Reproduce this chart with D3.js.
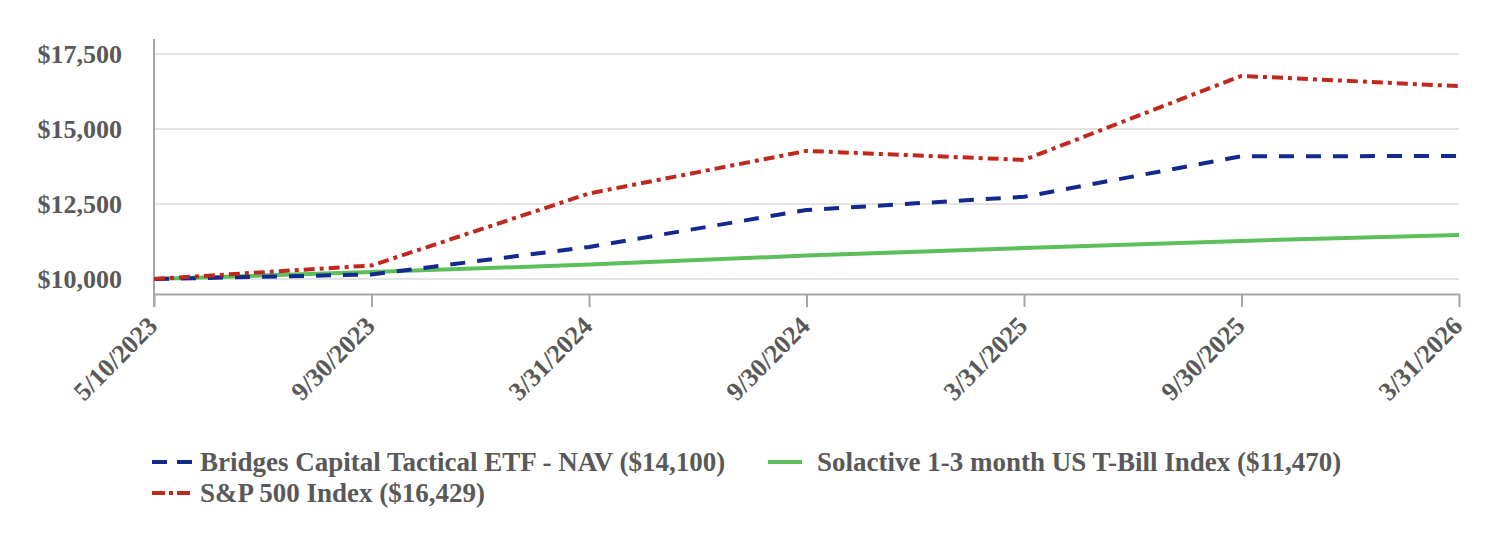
<!DOCTYPE html>
<html><head><meta charset="utf-8">
<script src="https://cdn.jsdelivr.net/npm/d3@7"></script>
<style>html,body{margin:0;padding:0;background:#fff;}svg{display:block;}</style>
</head><body>
<svg id="c" width="1496" height="556"></svg>
<script>
const categories = ["5/10/2023","9/30/2023","3/31/2024","9/30/2024","3/31/2025","9/30/2025","3/31/2026"];
const navValues = [10000,10150,11070,12300,12740,14090,14100];
const spValues = [10000,10450,12850,14270,13970,16770,16429];
const tbillValues = [10000,10230,10480,10780,11030,11270,11470];
const yTicks = [10000,12500,15000,17500];
const seriesNames = ["Bridges Capital Tactical ETF - NAV ($14,100)","Solactive 1-3 month US T-Bill Index ($11,470)","S&P 500 Index ($16,429)"];

const svg = d3.select("#c");
const textCol = "#595959";
const FONT = '"Liberation Serif", "Times New Roman", serif';
const L = 154, R = 1459, T = 39, B = 294;
function styleText(sel, size) {
  sel.style("font-family", FONT).style("font-weight", "bold").style("font-size", size + "px").attr("fill", textCol);
}

const x = d3.scalePoint().domain(categories).range([L, R]);
const y = d3.scaleLinear().domain([9500, 18000]).range([B, T]);

svg.append("g").selectAll("line").data(yTicks).join("line")
  .attr("x1", L).attr("x2", R)
  .attr("y1", d => y(d)).attr("y2", d => y(d))
  .attr("stroke", "#e3e3e3").attr("stroke-width", 2);

const yAxis = svg.append("g").attr("transform", `translate(${L},0)`)
  .call(d3.axisLeft(y).tickValues(yTicks).tickSize(0).tickPadding(32).tickFormat(d => "$" + d3.format(",")(d)));
yAxis.select(".domain").remove();
styleText(yAxis.selectAll("text"), 26);
svg.append("line").attr("x1", L).attr("x2", L).attr("y1", T).attr("y2", 307)
  .attr("stroke", "#a6a6a6").attr("stroke-width", 2);

const xAxis = svg.append("g").attr("transform", `translate(0,${B})`)
  .call(d3.axisBottom(x).tickSize(13).tickSizeOuter(0).tickPadding(4));
xAxis.select(".domain").attr("stroke", "#a6a6a6").attr("stroke-width", 2);
xAxis.selectAll(".tick line").attr("stroke", "#a6a6a6").attr("stroke-width", 2);
styleText(xAxis.selectAll("text"), 26);
xAxis.selectAll("text")
  .attr("text-anchor", "end").attr("dy", "0.35em")
  .attr("transform", "translate(-2,27) rotate(-45)").attr("y", 0).attr("x", 0);

const line = d3.line().x((d, i) => x(categories[i])).y(d => y(d));
const series = [
  {vals: tbillValues, color: "#5cbf5c", dash: null},
  {vals: navValues, color: "#12298d", dash: "15,12"},
  {vals: spValues, color: "#c0281e", dash: "11,5,4,5"}
];
svg.append("g").selectAll("path").data(series).join("path")
  .attr("d", d => line(d.vals)).attr("fill", "none")
  .attr("stroke", d => d.color).attr("stroke-width", 4)
  .attr("stroke-dasharray", d => d.dash);

const legend = [
  {name: seriesNames[0], color: "#12298d", dash: "15,10", x: 152, y: 462},
  {name: seriesNames[1], color: "#5cbf5c", dash: null, x: 768, y: 462},
  {name: seriesNames[2], color: "#c0281e", dash: "13,4,4,4", x: 152, y: 493}
];
const lg = svg.append("g").selectAll("g").data(legend).join("g")
  .attr("transform", d => `translate(${d.x},${d.y})`);
lg.append("line").attr("x1", 0).attr("x2", d => d.dash ? 40 : 34).attr("y1", 0).attr("y2", 0)
  .attr("stroke", d => d.color).attr("stroke-width", 4).attr("stroke-dasharray", d => d.dash);
const lt = lg.append("text").attr("x", d => d.dash ? 48 : 49).attr("y", 0).attr("dy", "0.35em").text(d => d.name);
styleText(lt, 27);
</script>
</body></html>
